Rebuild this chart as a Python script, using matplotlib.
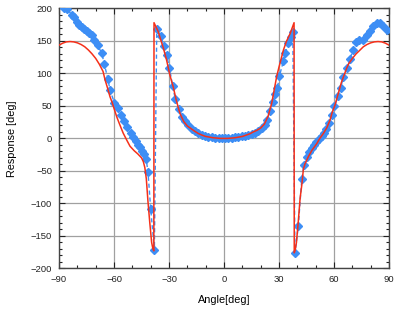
import matplotlib
matplotlib.use("Agg")
import matplotlib.pyplot as plt
from matplotlib.ticker import MultipleLocator

# measured response (blue diamonds)
meas_angle = [-87.5, -85.5, -83.1, -81.8, -80.4, -79.1, -77.6, -76.2, -74.9, -73.6,
              -72.2, -70.7, -68.9, -66.7, -65.3, -63.4, -62.2, -59.8, -58.0, -56.2,
              -54.6, -52.8, -51.0, -49.8, -48.2, -46.8, -45.6, -44.6, -43.5, -42.5,
              -41.5, -40.0, -38.0, -36.7, -34.5, -32.7, -31.3, -29.8, -28.0, -26.6,
              -24.4, -22.8, -21.3, -19.5, -17.6, -15.8, -14.0, -12.2, -10.4, -8.5,
              -6.7, -4.9, -3.0, -1.2, 0.6, 2.4, 4.2, 6.0, 7.8, 9.6,
              11.5, 13.3, 15.1, 16.9, 18.7, 20.5, 22.4, 23.6, 25.1, 26.7,
              28.0, 29.1, 30.2, 32.4, 33.3, 35.1, 36.4, 37.5, 38.7, 40.5,
              42.4, 43.6, 45.1, 46.5, 47.8, 49.1, 50.4, 51.8, 53.2, 54.5,
              55.8, 57.3, 58.7, 60.2, 62.4, 63.6, 65.1, 67.3, 68.7, 70.2,
              72.0, 73.8, 76.0, 77.8, 79.6, 81.5, 83.3, 85.1, 86.9, 89.1]
meas_resp = [200, 199, 190, 186, 179, 174, 171, 168, 165, 162,
             159, 152, 143, 131, 114, 92, 74, 55, 46, 36,
             26, 17, 9, 2, -4, -10, -14, -19, -24, -32,
             -51, -109, -171, 169, 157, 142, 128, 109, 80, 61,
             45, 33, 26, 20, 15, 11, 7.7, 5, 3.5, 2,
             1.5, 1, 0.5, 0.5, 0.5, 0.5, 1, 1.5, 2, 3,
             3.5, 5, 6.6, 9, 11.7, 15.5, 20.5, 29, 42, 56,
             68, 77, 96, 119, 131, 146, 156, 164, -177, -135,
             -63, -41, -29, -21, -15, -10, -6, -1, 4, 9,
             14, 23, 36, 50, 65, 77, 95, 109, 121.5, 136,
             149, 152, 152, 159, 165.5, 173, 178, 178, 173, 166.6]

# calculated response (red line)
calc_angle = [-90, -88, -86, -84, -82, -80, -78, -76, -74, -72,
              -70, -68, -66, -64.9, -63.5, -62.2, -61, -60, -58.5, -57,
              -55, -53, -51.3, -49, -47, -45, -44, -43.2, -42.4, -41.5,
              -40.5, -39.5, -38.8, -38.3, -38.2, -36, -35, -33, -31.3, -29.5,
              -27.7, -26, -24, -22, -20, -18, -16, -14, -12, -10,
              -8, -6, -4, -2, 0, 2, 4, 6, 8, 10,
              12, 14, 16, 18, 20, 22, 24, 26, 28.7, 30,
              32.4, 34, 36, 38.2, 38.3, 38.8, 39.5, 40.5, 41.5, 42.4,
              43.3, 44.2, 46, 48, 50.6, 52, 54.2, 56, 57.8, 59,
              60.5, 62, 64, 66.9, 68, 70, 72, 74.2, 76, 78,
              80, 82, 84, 86, 88, 90]
calc_resp = [143.5, 146.5, 148.5, 149, 148.5, 147, 144.5, 141, 136, 130,
             123, 114, 103, 90, 77, 64, 55, 46, 33, 22,
             8, -3, -12, -19, -24, -30, -36, -45, -62, -97,
             -130, -160, -170, -173, 178, 165, 156, 138, 120, 97,
             79, 58, 38, 26, 19, 15, 11, 7.5, 5, 3,
             2, 1, 0.5, 0, 0, 0, 0.5, 1, 2, 3,
             5, 7, 10, 12.5, 16, 22, 34, 54, 95, 110,
             136, 149, 161, 178, -176, -172, -160, -128, -92, -72,
             -47, -39, -28, -18, -8, -1, 7.7, 16, 28, 40,
             51, 66, 86, 108, 115, 123, 130, 136, 141, 144.5,
             147, 148.5, 149, 148.5, 146.5, 143.5]

plt.rcParams['font.family'] = ['Liberation Sans', 'DejaVu Sans']

fig = plt.figure(figsize=(3.99, 3.11), dpi=100)
ax = fig.add_axes([0.148, 0.137, 0.827, 0.836])

ax.plot(meas_angle, meas_resp, color='#3d8ef5', lw=1.0, ls=(0, (3, 2)),
        marker='D', ms=3.8, mec='#3d8ef5', mfc='#3d8ef5', zorder=3)
ax.plot(calc_angle, calc_resp, color='#f5301a', lw=1.1, zorder=4)

ax.set_xlim(-90, 90)
ax.set_ylim(-200, 200)
ax.xaxis.set_major_locator(MultipleLocator(30))
ax.xaxis.set_minor_locator(MultipleLocator(10))
ax.yaxis.set_major_locator(MultipleLocator(50))
ax.yaxis.set_minor_locator(MultipleLocator(10))
ax.grid(True, which='major', color='#a0a0a0', lw=0.9)
ax.set_axisbelow(True)

ax.tick_params(which='both', direction='in', top=True, right=True,
               labelsize=6.8, colors='#222222', width=0.8)
ax.tick_params(which='major', length=4, pad=5)
ax.tick_params(which='minor', length=2.5)
for s in ax.spines.values():
    s.set_color('#444444')
    s.set_linewidth(1.0)

ax.set_xlabel('Angle[deg]', fontsize=7.8, labelpad=8)
ax.set_ylabel('Response [deg]', fontsize=7.8, labelpad=10)

fig.savefig('out.png', dpi=100)
